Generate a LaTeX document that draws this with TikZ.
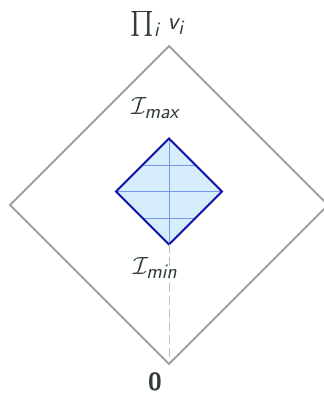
\documentclass[tikz,border=0pt]{standalone}
\usepackage{amsmath}
\definecolor{txt}{RGB}{48,60,60}
\definecolor{outer}{RGB}{160,160,160}
\definecolor{inner}{RGB}{15,15,170}
\definecolor{innerfill}{RGB}{214,238,252}
\definecolor{gridc}{RGB}{120,150,235}
\definecolor{dashc}{RGB}{190,190,190}
\tikzset{
  lbl/.style={text=txt,font=\fontsize{24.88}{28}\selectfont,inner sep=0pt},
  outerline/.style={draw=outer,line width=1.8pt},
  innerline/.style={draw=inner,line width=1.9pt,fill=innerfill},
  gridline/.style={draw=gridc,line width=0.8pt},
  dashline/.style={draw=dashc,line width=1pt,dash pattern=on 9pt off 4pt}
}
\begin{document}
\begin{tikzpicture}[x=1pt,y=1pt]
\useasboundingbox (0,0) rectangle (324,394);
% outer diamond
\begin{scope}
\clip (0,0) rectangle (324,394);
\coordinate (T) at (169,348);
\coordinate (B) at (169,30);
\coordinate (L) at (10,189);
\coordinate (R) at (328,189);
\draw[outerline,line join=miter] (T) -- (R) -- (B) -- (L) -- cycle;
\end{scope}
% inner diamond
\coordinate (t) at (169,255.5);
\coordinate (b) at (169,149.5);
\coordinate (l) at (116,202.5);
\coordinate (r) at (222,202.5);
\fill[innerfill] (t) -- (r) -- (b) -- (l) -- cycle;
\begin{scope}
\clip (t) -- (r) -- (b) -- (l) -- cycle;
\draw[gridline] (100,229) -- (240,229);
\draw[gridline] (100,202.5) -- (240,202.5);
\draw[gridline] (100,176) -- (240,176);
\draw[gridline] (169,140) -- (169,265);
\end{scope}
\draw[innerline,fill=none,line join=miter] (t) -- (r) -- (b) -- (l) -- cycle;
\draw[dashline] (b) -- (B);
% labels
\node[lbl] (prod) at (157,370) {$\prod_{\textsf{\itshape i}}\, \textsf{\itshape v}_{\textsf{\itshape i}}$};
\node[lbl] (imax) at (155,286) {$\mathcal{I}_{\textsf{\itshape max}}$};
\node[lbl] (imin) at (155,126) {$\mathcal{I}_{\textsf{\itshape min}}$};
\node[lbl] (zero) at (155,12) {\textsf{\bfseries 0}};
\end{tikzpicture}
\end{document}
